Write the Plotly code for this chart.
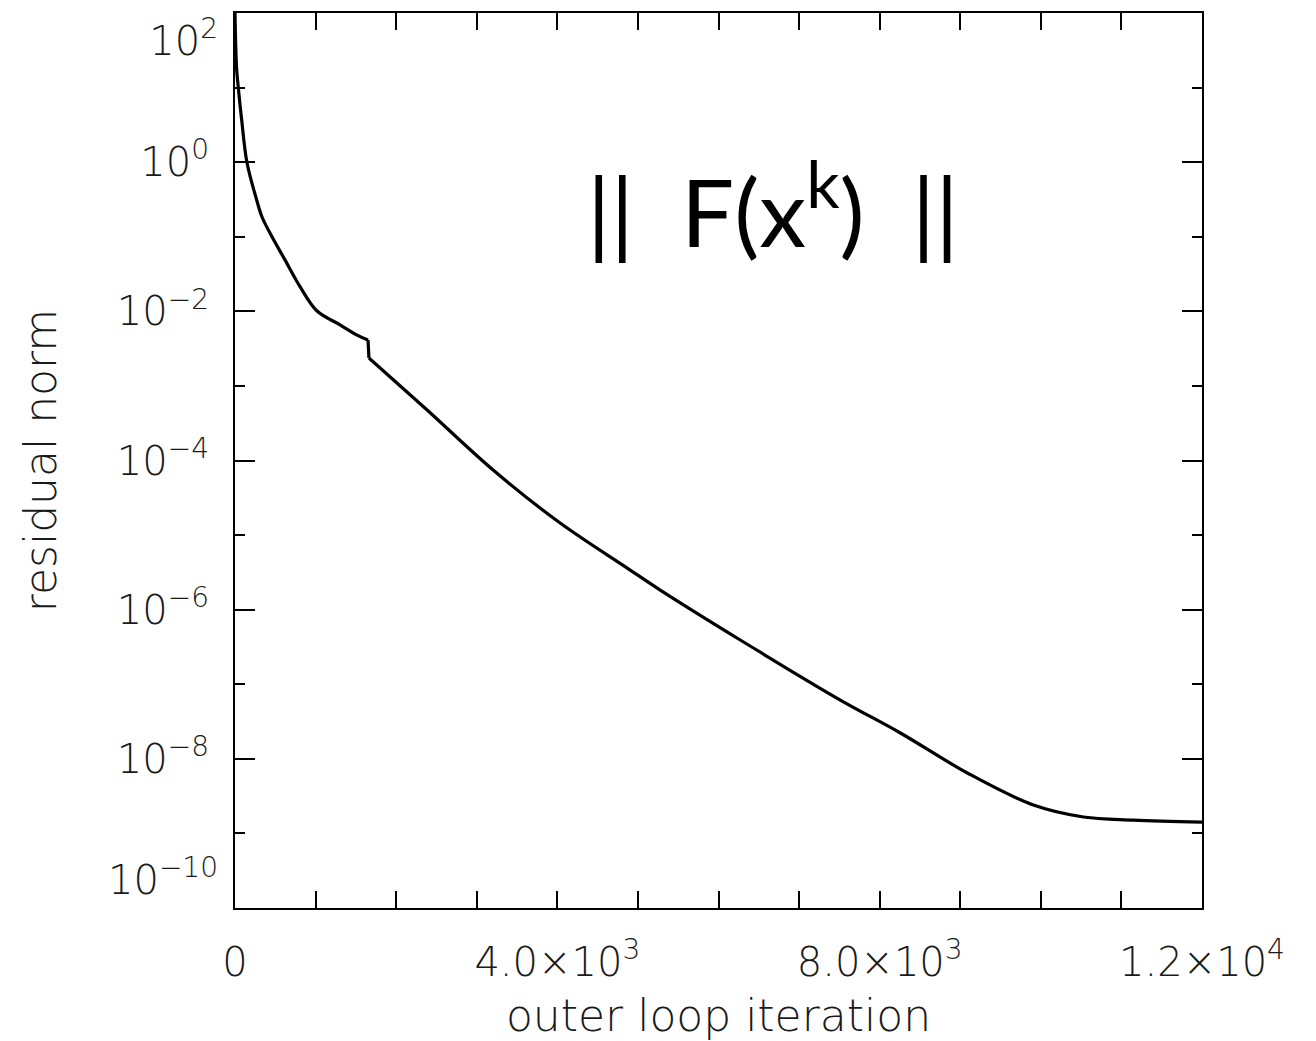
import plotly.graph_objects as go

# Convergence history of the outer loop: residual norm ||F(x^k)|| per iteration
iterations = [0, 8, 20, 41, 83, 149, 269, 335, 459, 620, 807, 1018, 1304, 1515,
              1651,
              1662, 2384, 3203, 4035, 4867, 5277, 6270, 7512, 8257, 9088,
              9908, 10529, 11150, 12000]
residual = [100.0, 40.0, 18.0, 10.0, 3.67, 0.98, 0.311, 0.184, 0.100, 0.049,
            0.0214, 0.0101, 0.0066, 0.0048, 0.00412,
            0.00237, 4.75e-4, 7.45e-5, 1.45e-5, 3.61e-6, 1.83e-6, 3.92e-7,
            6.14e-8, 2.22e-8, 6.46e-9,
            2.4e-9, 1.66e-9, 1.51e-9, 1.42e-9]
# index of the first iterate after the restart (sudden drop in the residual)
restart = 15

# Axis ticks
y_major = [1e-8, 1e-6, 1e-4, 1e-2, 1e0]
y_major_text = ["10<sup>\u22128</sup>", "10<sup>\u22126</sup>",
                "10<sup>\u22124</sup>", "10<sup>\u22122</sup>", "10<sup>0</sup>"]
y_top, y_top_text = [1e2], ["10<sup>2</sup>"]
y_bottom, y_bottom_text = [1e-10], ["10<sup>\u221210</sup>"]
y_minor = [1e-9, 1e-7, 1e-5, 1e-3, 1e-1, 1e1]
x_major = [0, 4000, 8000, 12000]
x_major_text = ["0", "4.0\u00d710<sup>3</sup>", "8.0\u00d710<sup>3</sup>",
                "1.2\u00d710<sup>4</sup>"]
x_minor = [1000, 2000, 3000, 5000, 6000, 7000, 9000, 10000, 11000]

label_family = "DejaVu Sans"
tick_font = dict(family=label_family, size=40, color="#1a1a1a", weight=200)
title_font = dict(family=label_family, size=44, color="#1a1a1a", weight=200)
curve = dict(color="black", width=3.2)
y_range = [-10, 2]

fig = go.Figure()
# smooth descent before the restart
fig.add_trace(go.Scatter(
    x=iterations[:restart], y=residual[:restart], mode="lines",
    line=dict(**curve, shape="spline", smoothing=1.0), showlegend=False,
))
# the drop at the restart
fig.add_trace(go.Scatter(
    x=iterations[restart - 1:restart + 1], y=residual[restart - 1:restart + 1],
    mode="lines", line=curve, showlegend=False,
))
# descent after the restart down to the stagnation level
fig.add_trace(go.Scatter(
    x=iterations[restart:], y=residual[restart:], mode="lines",
    line=dict(**curve, shape="spline", smoothing=1.0), showlegend=False,
))
# single-point traces (nothing drawn) that activate the end-label axes
for axis_id in ("y2", "y3"):
    fig.add_trace(go.Scatter(
        x=iterations[:1], y=residual[:1], mode="lines", yaxis=axis_id,
        line=dict(width=0), showlegend=False, hoverinfo="skip",
    ))


def end_label_axis(vals, text, position):
    # extra log axis that only carries one label kept inside the frame
    return dict(
        type="log", range=y_range, overlaying="y", anchor="x", side="left",
        tickmode="array", tickvals=vals, ticktext=text, ticks="",
        showline=False, showgrid=False, zeroline=False,
        tickfont=tick_font, ticklabelstandoff=16, ticklabelposition=position,
        ticklabeloverflow="allow", automargin=False,
    )


fig.update_layout(
    width=1316, height=1041,
    margin=dict(l=235, r=114, t=13, b=133),
    paper_bgcolor="white", plot_bgcolor="white",
    xaxis=dict(
        range=[0, 12000],
        tickmode="array", tickvals=x_major, ticktext=x_major_text,
        ticks="inside", ticklen=17, tickwidth=2, tickcolor="black",
        minor=dict(tickmode="array", tickvals=x_minor, ticks="inside",
                   ticklen=9, tickwidth=2, tickcolor="black", showgrid=False),
        showline=True, linecolor="black", linewidth=2, mirror="allticks",
        showgrid=False, zeroline=False, automargin=False,
        tickfont=tick_font, ticklabelstandoff=18, ticklabeloverflow="allow",
        title=dict(text="outer loop iteration", font=title_font, standoff=20),
    ),
    yaxis=dict(
        type="log", range=y_range,
        tickmode="array", tickvals=y_major, ticktext=y_major_text,
        ticks="inside", ticklen=20, tickwidth=2, tickcolor="black",
        minor=dict(tickmode="array", tickvals=y_minor, ticks="inside",
                   ticklen=10, tickwidth=2, tickcolor="black", showgrid=False),
        showline=True, linecolor="black", linewidth=2, mirror="allticks",
        showgrid=False, zeroline=False, automargin=False,
        tickfont=tick_font, ticklabelstandoff=16, ticklabeloverflow="allow",
        title=dict(text="residual norm", font=title_font, standoff=46),
    ),
    yaxis2=end_label_axis(y_top, y_top_text, "outside bottom"),
    yaxis3=end_label_axis(y_bottom, y_bottom_text, "outside top"),
    annotations=[dict(
        text="||\u2002F(x<sup>k</sup>)\u2002||",
        xref="paper", yref="paper", x=0.556, y=0.786,
        xanchor="center", yanchor="middle", showarrow=False,
        font=dict(family="Lato", size=94, color="black"),
    )],
)

fig.write_html("out.html")
